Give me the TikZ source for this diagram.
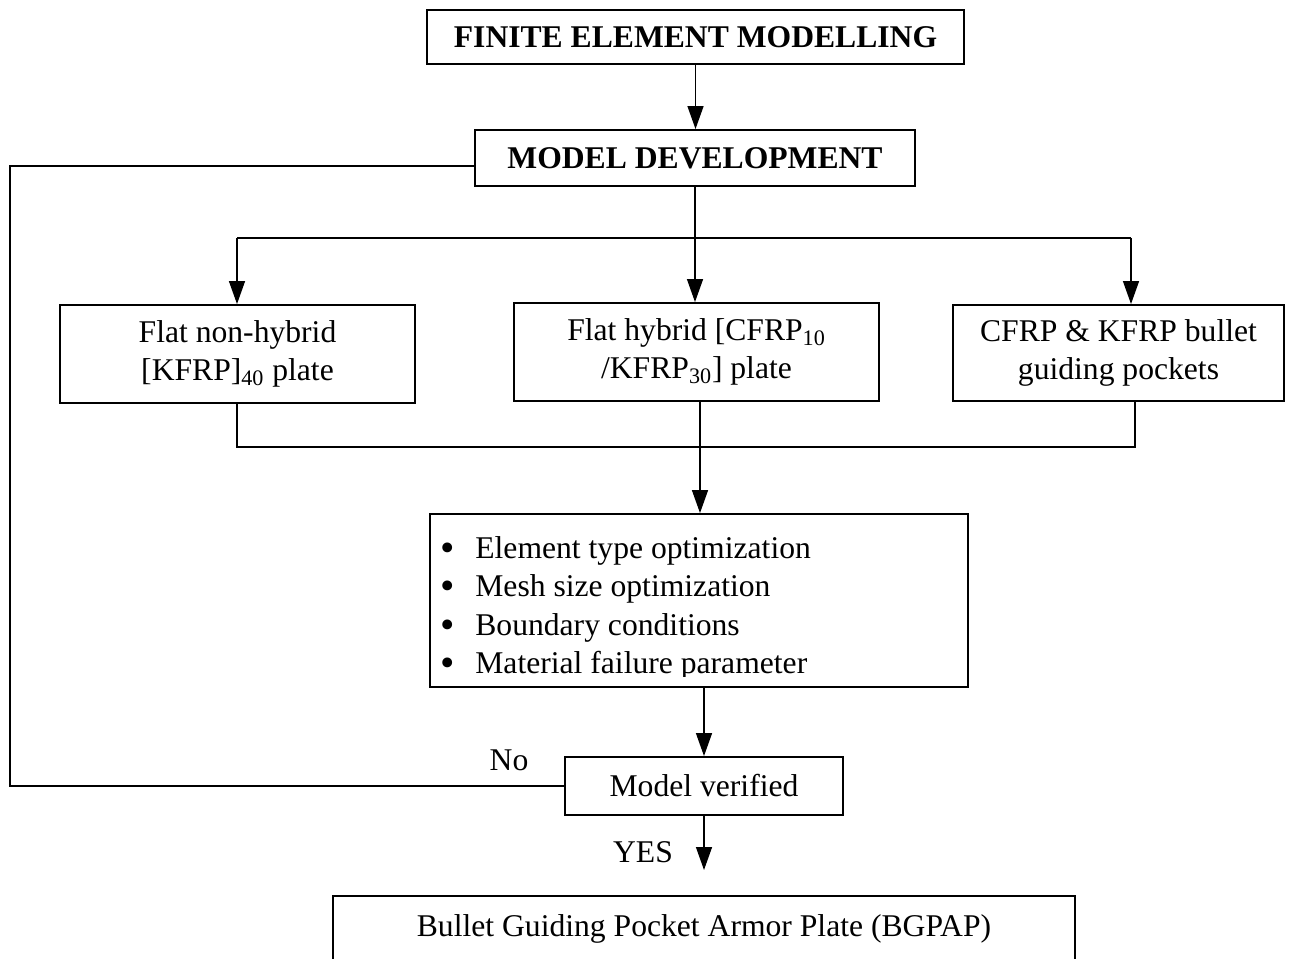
\documentclass[tikz,border=0pt]{standalone}
\usepackage{fontspec}
\setmainfont{Liberation Serif}
\usetikzlibrary{arrows.meta}
\newcommand{\bigbul}{\makebox[0.7cm][l]{\smash{\raisebox{-0.1em}{\scalebox{1.3}{\textbullet}}}}}

\begin{document}
\begin{tikzpicture}[x=0.02cm,y=-0.02cm,font=\fontsize{18}{21.6}\selectfont,
    box/.style={draw,line width=1.1pt,inner sep=0pt,align=center},
    ln/.style={line width=0.8pt},
    arr/.style={line width=0.8pt,-{Triangle[length=4.6mm,width=3.2mm]}},
    lbl/.style={inner sep=0pt}]
      \useasboundingbox (0,0) rectangle (1290,959);
      \clip (0,0) rectangle (1290,959);
      \node[box,minimum width=10.74cm,minimum height=1.08cm,font=\fontsize{18}{21.6}\selectfont\bfseries] (fem) at (695.5,37) {FINITE ELEMENT MODELLING};
      \node[box,minimum width=8.8cm,minimum height=1.12cm,font=\fontsize{18}{21.6}\selectfont\bfseries] (dev) at (695,158) {MODEL DEVELOPMENT};
      \node[box,minimum width=7.1cm,minimum height=1.96cm] (nh) at (237.5,354) {Flat non-hybrid\\ {[KFRP]\textsubscript{40}} plate};
      \node[box,minimum width=7.3cm,minimum height=1.96cm] (hy) at (696.5,352) {Flat hybrid [CFRP\textsubscript{10}\\ /KFRP\textsubscript{30}] plate};
      \node[box,minimum width=6.62cm,minimum height=1.92cm] (pk) at (1118.5,353) {CFRP \& KFRP bullet\\ guiding pockets};
      \node[box,minimum width=10.76cm,minimum height=3.46cm] (chk) at (699,600.5) {};
      \begin{scope}
        \clip (chk.north west) rectangle ([yshift=0.22cm]chk.south east);
        \node[lbl,anchor=north west,align=left,font=\fontsize{18}{21.9}\selectfont] (lst) at (440,536) {\bigbul Element type optimization\\
          \bigbul Mesh size optimization\\
          \bigbul Boundary conditions\\
          \bigbul Material failure parameter};
      \end{scope}
      \node[box,minimum width=5.56cm,minimum height=1.16cm] (ver) at (704,786) {Model verified};
      \node[box,minimum width=14.84cm,minimum height=1.32cm] (bg) at (704,929) {Bullet Guiding Pocket Armor Plate (BGPAP)};
      \node[lbl] (no) at (509,760) {No};
      \node[lbl] (yes) at (643,852) {YES};
      \coordinate (st) at (695,238);
      \coordinate (sl) at (237,238);
      \coordinate (sr) at (1131,238);
      \coordinate (jl) at (237,447);
      \coordinate (jm) at (700,447);
      \coordinate (jr) at (1135,447);
      \coordinate (fb) at (10,166);
      \coordinate (yend) at (704,870);
      \draw[arr] (fem.south) -- (fem.south |- dev.north);
      \draw[ln] (dev.south) -- (st);
      \draw[ln] (sl) -- (sr);
      \draw[arr] (sl) -- (sl |- nh.north);
      \draw[arr] (st) -- (st |- hy.north);
      \draw[arr] (sr) -- (sr |- pk.north);
      \draw[ln] (nh.south -| jl) -- (jl) -- (jr) -- (pk.south -| jr);
      \draw[ln] (hy.south -| jm) -- (jm);
      \draw[arr] (jm) -- (jm |- chk.north);
      \draw[arr] (ver.north |- chk.south) -- (ver.north);
      \draw[arr] (ver.south) -- (yend);
      \draw[ln] (ver.west) -| (fb) -- (fb -| dev.west);
    \end{tikzpicture}
\end{document}
